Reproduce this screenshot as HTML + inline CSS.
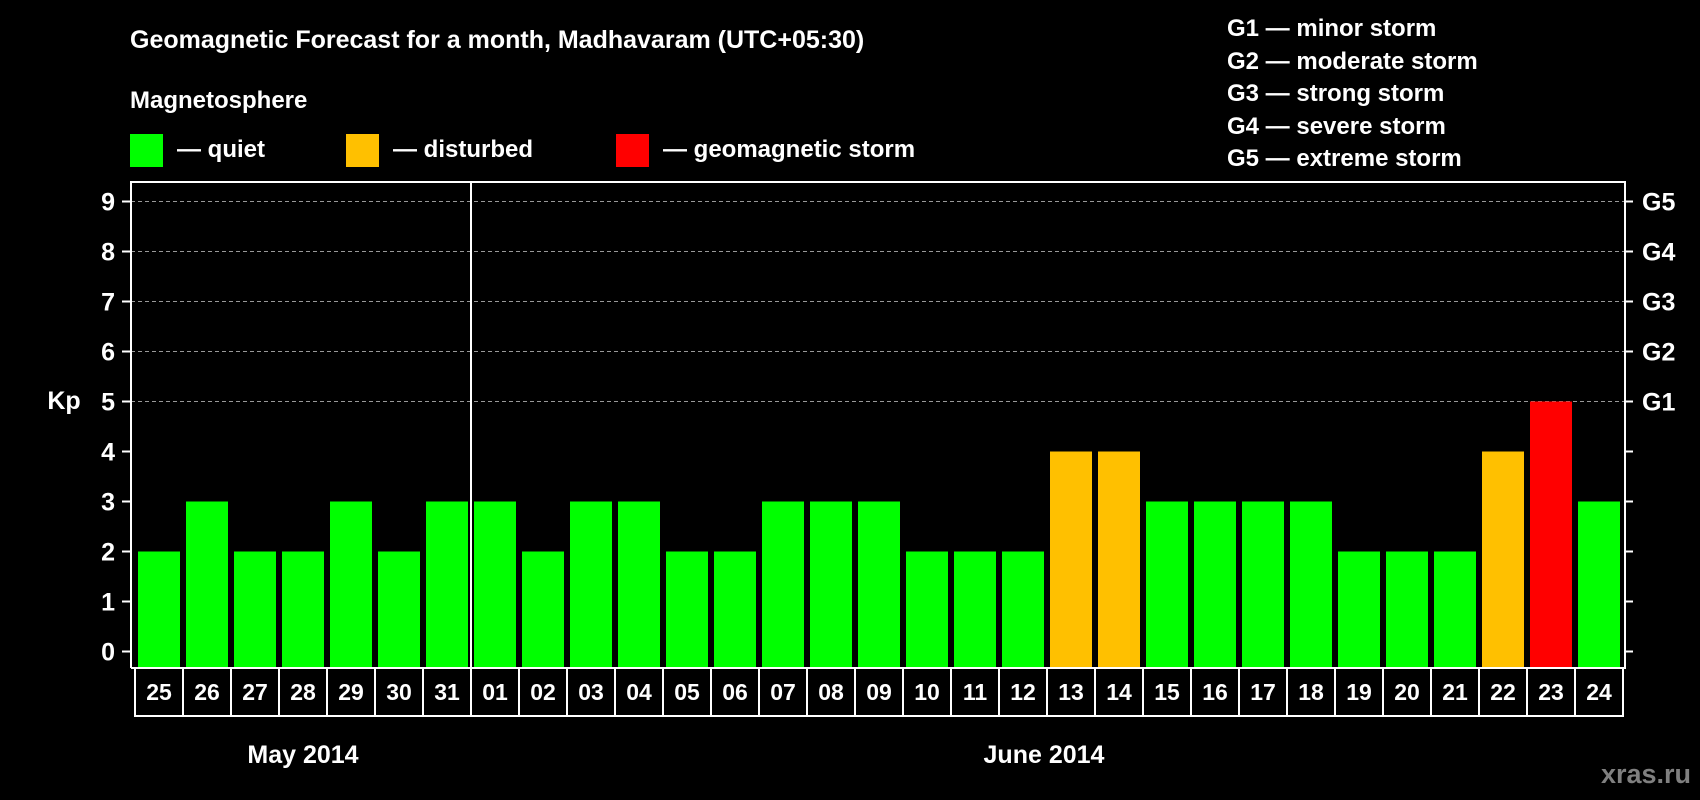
<!DOCTYPE html>
<html><head><meta charset="utf-8"><style>
html,body{margin:0;padding:0;background:#000;}
svg{display:block;font-family:"Liberation Sans",Arial,sans-serif;font-weight:bold;}
</style></head><body>
<svg id="chart" width="1700" height="800" viewBox="0 0 1700 800">
<rect width="1700" height="800" fill="#000"/>
<text x="130" y="48" fill="#fff" font-size="25">Geomagnetic Forecast for a month, Madhavaram (UTC+05:30)</text>
<text x="130" y="108" fill="#fff" font-size="24">Magnetosphere</text>
<g><rect x="130" y="134" width="33" height="33" fill="#00ff00"/><text x="177" y="157" fill="#fff" font-size="24">— quiet</text></g>
<g><rect x="346" y="134" width="33" height="33" fill="#ffc000"/><text x="393" y="157" fill="#fff" font-size="24">— disturbed</text></g>
<g><rect x="616" y="134" width="33" height="33" fill="#ff0000"/><text x="663" y="157" fill="#fff" font-size="24">— geomagnetic storm</text></g>
<g fill="#fff" font-size="24">
<text x="1227" y="36">G1 — minor storm</text>
<text x="1227" y="69">G2 — moderate storm</text>
<text x="1227" y="101">G3 — strong storm</text>
<text x="1227" y="134">G4 — severe storm</text>
<text x="1227" y="166">G5 — extreme storm</text>
</g>
<text x="64" y="409" fill="#fff" font-size="25" text-anchor="middle">Kp</text>
<g id="grid"></g><g id="bars"></g><g id="axes"></g>
<text x="303" y="763" fill="#fff" font-size="25" text-anchor="middle">May 2014</text>
<text x="1044" y="763" fill="#fff" font-size="25" text-anchor="middle">June 2014</text>
<text x="1691" y="783" fill="#808080" font-size="27" text-anchor="end">xras.ru</text>
</svg>
<script>
const days = ["25","26","27","28","29","30","31","01","02","03","04","05","06","07","08","09","10","11","12","13","14","15","16","17","18","19","20","21","22","23","24"];
const kpValues = [2,3,2,2,3,2,3,3,2,3,3,2,2,3,3,3,2,2,2,4,4,3,3,3,3,2,2,2,4,5,3];
const yTicks = [0,1,2,3,4,5,6,7,8,9];
const gLabels = ["","","","","","G1","G2","G3","G4","G5"];
const monthBreakIndex = 7;

const NS="http://www.w3.org/2000/svg";
const L=131,R=1625,T=182,B=668;
const x0=135, step=48, barW=42;
const y=v=>651.5-v*50;
const xCell=i=>x0+i*step;
function mk(tag,attrs,parent){const e=document.createElementNS(NS,tag);for(const k in attrs)e.setAttribute(k,attrs[k]);parent.appendChild(e);return e;}
const grid=document.getElementById('grid'),bars=document.getElementById('bars'),axes=document.getElementById('axes');
yTicks.forEach(t=>{
  if(t>=5){const g=mk('line',{x1:L,x2:R,y1:y(t),y2:y(t),stroke:'#999','stroke-width':1,'stroke-dasharray':'4,3'},grid);
  
  }
  const tk=mk('line',{x1:L-9,x2:L,y1:y(t),y2:y(t),stroke:'#fff','stroke-width':2},axes);
  
  
  const lb=mk('text',{x:115,y:y(t)+9,fill:'#fff','font-size':25,'text-anchor':'end'},axes);lb.textContent=t;
  
  
  const rt=mk('line',{x1:R,x2:R+8,y1:y(t),y2:y(t),stroke:'#fff','stroke-width':2},axes);
  
  
  if(gLabels[t]){const gl=mk('text',{x:1642,y:y(t)+9,fill:'#fff','font-size':25},axes);gl.textContent=gLabels[t];
  
  }
});
kpValues.forEach((v,i)=>{
  const c=v>=5?'#ff0000':(v>=4?'#ffc000':'#00ff00');
  const b=mk('rect',{x:xCell(i)+3,y:y(v),width:barW,height:B-y(v),fill:c},bars);
  
  
  const cell=mk('rect',{x:xCell(i),y:B,width:step,height:48,fill:'none',stroke:'#fff','stroke-width':2},axes);
  
  
  const t=mk('text',{x:xCell(i)+step/2,y:B+32,fill:'#fff','font-size':23,'text-anchor':'middle'},axes);t.textContent=days[i];
  
  
});
const frame=mk('path',{d:`M${L},${B} L${L},${T} L${R},${T} L${R},${B} L${L},${B}`,fill:'none',stroke:'#fff','stroke-width':2},axes);


const sep=mk('line',{x1:xCell(monthBreakIndex),x2:xCell(monthBreakIndex),y1:T,y2:B+48,stroke:'#fff','stroke-width':2},axes);


</script>
</body></html>
